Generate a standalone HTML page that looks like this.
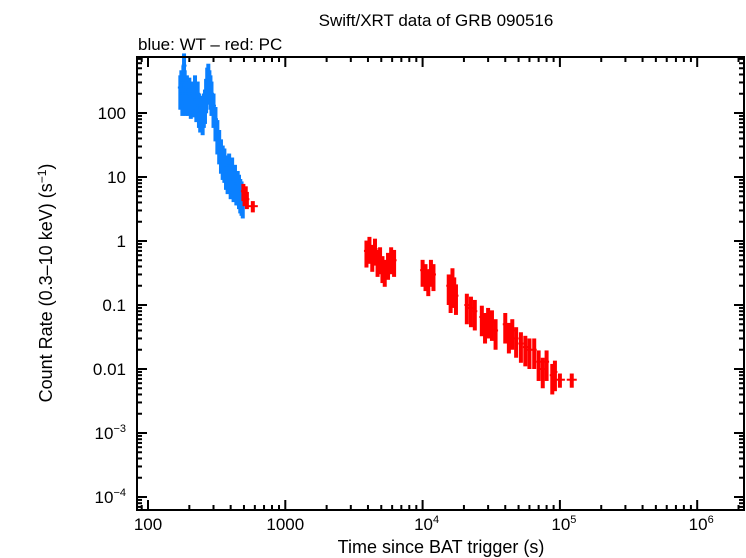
<!DOCTYPE html>
<html><head><meta charset="utf-8"><style>
body{margin:0;background:#fff;}
svg{display:block;font-family:"Liberation Sans",sans-serif;}
</style></head><body>
<svg id="chart" width="746" height="558">
<text x="436" y="26" font-size="17" text-anchor="middle">Swift/XRT data of GRB 090516</text>
<text x="138" y="50" font-size="17">blue: WT – red: PC</text>
<text x="441" y="553" font-size="18" text-anchor="middle">Time since BAT trigger (s)</text>
<text transform="translate(52,283) rotate(-90)" font-size="18" text-anchor="middle">Count Rate (0.3–10 keV) (s<tspan dy="-6" font-size="12">−1</tspan><tspan dy="6">)</tspan></text>
<g id="marks"></g>
<rect x="137" y="57" width="607" height="453" fill="none" stroke="#000" stroke-width="2"/>
<g id="axes"></g>
</svg>
<script>
const wtTimes=[172,175,178,181,183,185,188,192,196,200,205,210,215,220,225,230,235,240,245,250,255,260,265,270,275,280,285,290,300,310,320,330,340,350,360,370,380,390,400,410,420,430,440,450,460,470,480,490];
const wtRates=[250,300,200,350,550,300,200,250,200,230,180,200,190,250,160,200,130,110,120,100,130,150,220,330,380,300,250,200,130,80,50,35,25,20,18,14,12,15,10,13,9,10,8,8,7,6,5.5,5];
const pcTimes=[495,505,515,525,580,3900,4100,4300,4500,4700,4900,5100,5300,5600,5900,6200,10000,10500,11000,11500,12000,15500,16000,16500,17000,17500,21000,22500,24000,27000,28500,30000,32000,34000,40000,42500,45000,48000,52000,56000,60000,65000,70000,75000,80000,88000,92000,100000,122000];
const pcRates=[6,5,5.5,4.5,3.5,0.7,0.8,0.6,0.75,0.5,0.55,0.4,0.35,0.45,0.55,0.5,0.35,0.3,0.25,0.35,0.3,0.2,0.15,0.25,0.18,0.14,0.1,0.09,0.08,0.065,0.05,0.06,0.055,0.04,0.05,0.035,0.04,0.03,0.025,0.022,0.02,0.02,0.013,0.01,0.013,0.008,0.009,0.0068,0.0068];
const pcErrFrac=[0.3,0.3,0.3,0.3,0.2,0.45,0.45,0.45,0.45,0.45,0.45,0.45,0.45,0.45,0.45,0.45,0.45,0.45,0.45,0.45,0.45,0.5,0.5,0.5,0.5,0.5,0.5,0.5,0.5,0.5,0.5,0.5,0.5,0.5,0.5,0.5,0.5,0.5,0.5,0.5,0.5,0.5,0.5,0.5,0.5,0.5,0.5,0.25,0.25];
const xTicks=[100,1000,1e4,1e5,1e6];
const xTickLabels=["100","1000","10|4","10|5","10|6"];
const yTicks=[100,10,1,0.1,0.01,1e-3,1e-4];
const yTickLabels=["100","10","1","0.1","0.01","10|−3","10|−4"];

const NS="http://www.w3.org/2000/svg";
const X=t=>148+(Math.log10(t)-2)*137.3;
const Y=r=>113-(Math.log10(r)-2)*64;
const marks=document.getElementById('marks'),axes=document.getElementById('axes');
function rect(p,x,y,w,h,c){const e=document.createElementNS(NS,'rect');e.setAttribute('x',x);e.setAttribute('y',y);e.setAttribute('width',w);e.setAttribute('height',h);e.setAttribute('fill',c);p.appendChild(e);return e;}
function bar(t,r,f,hw,c,i,kind){
  const g=document.createElementNS(NS,'g');
  
  
  const y1=Y(r*(1+f)),y2=Y(r*(1-f));
  rect(g,X(t)-2,y1,4,y2-y1,c);
  rect(g,X(t)-hw,Y(r)-1,hw*2,2,c);
  marks.appendChild(g);
}
wtTimes.forEach((t,i)=>bar(t,wtRates[i],0.55,2.5,'#0a80ff',i,'wt'));
pcTimes.forEach((t,i)=>bar(t,pcRates[i],pcErrFrac[i],i>=47||i==4?5:2.5,'#ff0000',i,'pc'));

function txt(x,y,s,anchor){const e=document.createElementNS(NS,'text');e.setAttribute('x',x);e.setAttribute('y',y);e.setAttribute('font-size','17');e.setAttribute('text-anchor',anchor);
  const p=s.split('|');e.appendChild(document.createTextNode(p[0]));
  if(p[1]){const ts=document.createElementNS(NS,'tspan');ts.setAttribute('dy','-7');ts.setAttribute('font-size','11');ts.textContent=p[1];e.appendChild(ts);}
  axes.appendChild(e);return e;}
xTicks.forEach((t,i)=>{
  const e=txt(X(t)+(i>1?4:0),530,xTickLabels[i],'middle');
  
  
});
for(let d=1;d<=6;d++)for(let m=1;m<=9;m++){const t=m*Math.pow(10,d);const x=X(t);if(x<138||x>743)continue;const L=m==1?10:5;
  rect(axes,x-1,510-L,2,L,'#000');rect(axes,x-1,57,2,L,'#000');}
yTicks.forEach((r,i)=>{
  const e=txt(126,Y(r)+6,yTickLabels[i],'end');
  
  
});
for(let d=-5;d<=2;d++)for(let m=1;m<=9;m++){const r=m*Math.pow(10,d);const y=Y(r);if(y<58||y>509)continue;const L=m==1?10:5;
  rect(axes,137,y-1,L,2,'#000');rect(axes,744-L,y-1,L,2,'#000');}
</script>
</body></html>
